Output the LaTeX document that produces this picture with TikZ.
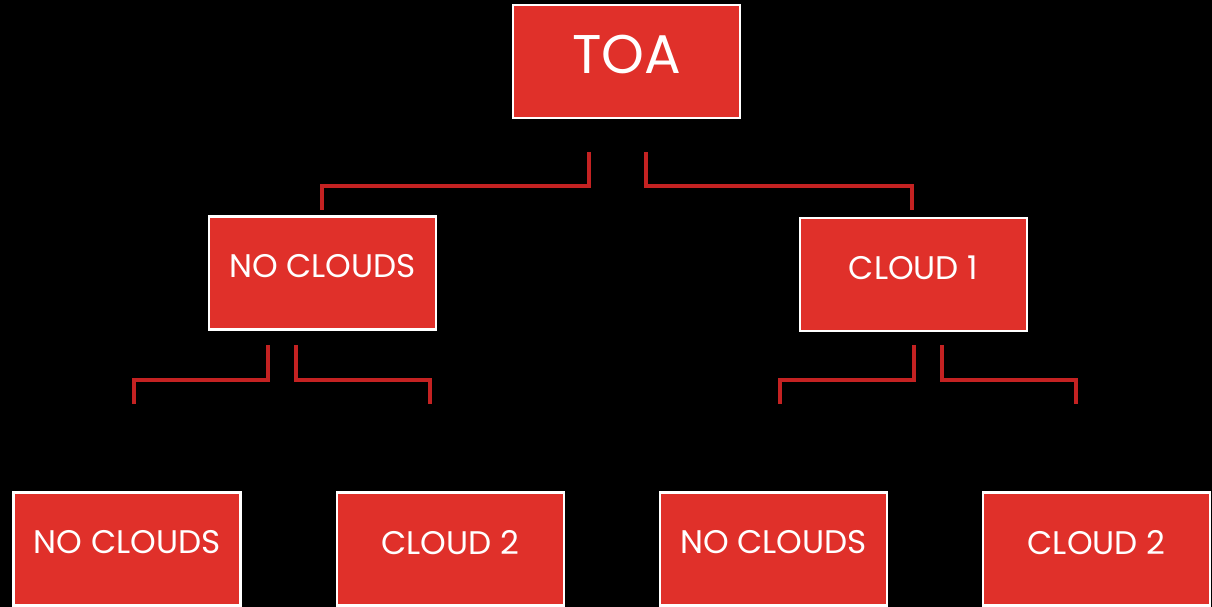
\documentclass[tikz,border=0pt]{standalone}
\usepackage{fontspec}
\setmainfont{Poppins}
\definecolor{boxred}{HTML}{E0302A}
\definecolor{linkred}{HTML}{C42222}
\tikzset{
  box/.style={draw=white, line width=1.3pt, fill=boxred, text=white,
    minimum width=4.54cm, minimum height=2.26cm, inner sep=0pt,
    text depth=0.28cm, font=\fontsize{18.6}{20}\selectfont},
  link/.style={linkred, line width=1.9pt}
}

\begin{document}
\begin{tikzpicture}[x=0.02cm,y=-0.02cm]
  \fill[black] (0,0) rectangle (1212,607);
  % boxes
  \node[box, font=\fontsize{31}{34}\selectfont] (toa) at (626.5,61.5) {TOA};
  \node[box] (noc) at (322.5,273) {NO CLOUDS};
  \node[box] (cl1) at (913.5,274.5) {CLOUD 1};
  \node[box] (noca) at (127,549) {NO CLOUDS};
  \node[box] (cl2a) at (450.5,549) {CLOUD 2};
  \node[box] (nocb) at (773.5,549) {NO CLOUDS};
  \node[box] (cl2b) at (1096.5,549) {CLOUD 2};
  % connector ends
  \coordinate (ta) at (589,152);
  \coordinate (tb) at (646,152);
  \coordinate (na) at (268,345);
  \coordinate (nb) at (296,345);
  \coordinate (ca) at (914,345);
  \coordinate (cb) at (942,345);
  \coordinate (noc-in) at (322,210);
  \coordinate (cl1-in) at (912,210);
  \coordinate (noca-in) at (134,404);
  \coordinate (cl2a-in) at (430,404);
  \coordinate (nocb-in) at (780,404);
  \coordinate (cl2b-in) at (1076,404);
  % connectors
  \draw[link] (ta) -- ++(0,34) -| (noc-in);
  \draw[link] (tb) -- ++(0,34) -| (cl1-in);
  \draw[link] (na) -- ++(0,35) -| (noca-in);
  \draw[link] (nb) -- ++(0,35) -| (cl2a-in);
  \draw[link] (ca) -- ++(0,35) -| (nocb-in);
  \draw[link] (cb) -- ++(0,35) -| (cl2b-in);
\end{tikzpicture}
\end{document}
